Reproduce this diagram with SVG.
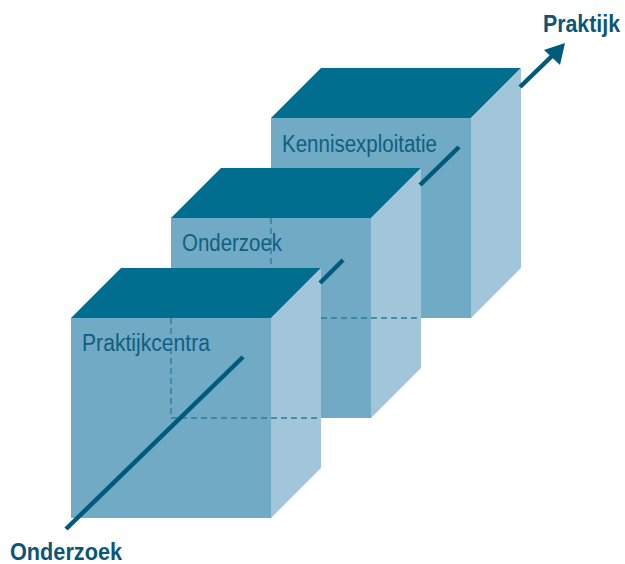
<svg xmlns="http://www.w3.org/2000/svg" width="625" height="564" viewBox="0 0 625 564">
<style>
.front{fill:#70aac5}
.side{fill:#a1c6d9}
.top{fill:#006e8e}
.dash{fill:none;stroke:#2b7c9c;stroke-width:1.4;stroke-dasharray:6 4}
.axis{stroke:#005a7c;stroke-width:4.5;stroke-linecap:butt;fill:none}
.lbl{font-family:"Liberation Sans",Arial,sans-serif;font-size:23px;fill:#0f5f80}
.big{font-family:"Liberation Sans",Arial,sans-serif;font-size:23px;font-weight:bold;fill:#0b5576}
</style>
<rect width="625" height="564" fill="#ffffff"/>
<g id="cube-kennisexploitatie">
<rect class="front" x="271" y="118" width="200" height="200"/>
<polygon class="top" points="271,118 471,118 521,68 321,68"/>
<polygon class="side" points="471,118 521,68 521,268 471,318"/>
<text class="lbl" x="282" y="152" textLength="155" lengthAdjust="spacingAndGlyphs">Kennisexploitatie</text>
</g>
<g id="cube-onderzoek">
<rect class="front" x="171" y="218" width="200" height="200"/>
<polygon class="top" points="171,218 371,218 421,168 221,168"/>
<polygon class="side" points="371,218 421,168 421,368 371,418"/>
<text class="lbl" x="182" y="251" textLength="100" lengthAdjust="spacingAndGlyphs">Onderzoek</text>
</g>
<g id="hidden-edges-kennisexploitatie">
<path class="dash" d="M271,218 V318 H421"/>
</g>
<g id="cube-praktijkcentra">
<rect class="front" x="71" y="318" width="200" height="200"/>
<polygon class="top" points="71,318 271,318 321,268 121,268"/>
<polygon class="side" points="271,318 321,268 321,468 271,518"/>
<text class="lbl" x="82" y="351" textLength="128" lengthAdjust="spacingAndGlyphs">Praktijkcentra</text>
</g>
<g id="hidden-edges-onderzoek">
<path class="dash" d="M171,318 V418 H321"/>
</g>
<g id="connectors">
<line class="axis" x1="66" y1="529" x2="243" y2="357"/>
<line class="axis" x1="320" y1="283" x2="343" y2="260"/>
<line class="axis" x1="420" y1="185" x2="459" y2="147"/>
<line class="axis" x1="520" y1="87" x2="552" y2="56"/>
<polygon points="565,43 544,50 560,65" fill="#005a7c"/>
</g>
<g id="labels">
<text class="big" x="543" y="32" textLength="77" lengthAdjust="spacingAndGlyphs">Praktijk</text>
<text class="big" x="10" y="560" textLength="112" lengthAdjust="spacingAndGlyphs">Onderzoek</text>
</g>
</svg>
